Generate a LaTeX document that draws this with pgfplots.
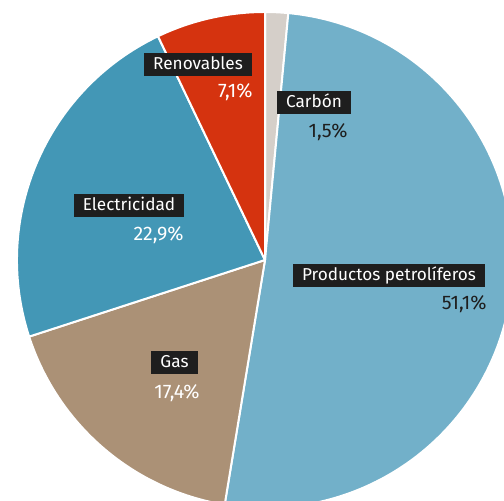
\documentclass[border=0pt]{standalone}
\usepackage{pgfplots}
\usepackage{pgfplotstable}
\pgfplotsset{compat=1.18}
\usepackage{fontspec}
\setmainfont{Fira Sans}

\definecolor{carbon}{HTML}{D5CFC9}
\definecolor{petro}{HTML}{72B0C9}
\definecolor{gas}{HTML}{AB9176}
\definecolor{elec}{HTML}{4397B6}
\definecolor{renov}{HTML}{D5330F}
\definecolor{boxbg}{HTML}{1E1E1E}

% share of each source, clockwise from 12 o'clock
\pgfplotstableread[col sep=comma]{
name,value,col
Carbon,1.5,carbon
Petroliferos,51.1,petro
Gas,17.4,gas
Electricidad,22.9,elec
Renovables,7.1,renov
}\shares

\tikzset{
  lbl/.style={fill=boxbg, text=white, inner xsep=4.5pt, inner ysep=0pt,
    text height=7pt, text depth=2pt, minimum height=11.5pt, font=\fontsize{8.6}{10}\selectfont},
  pct/.style={inner sep=0pt, font=\fontsize{9.8}{11}\selectfont}
}

\begin{document}
\begin{tikzpicture}
\begin{axis}[x=0.5pt, y=0.5pt, xmin=-265, xmax=239, ymin=-241, ymax=260,
  hide axis, clip=true]
\pgfplotstablegetrowsof{\shares}
\pgfmathtruncatemacro\nrows{\pgfplotsretval-1}
\gdef\angA{90}
\pgfplotsforeachungrouped \i in {0,...,\nrows}{
  \pgfplotstablegetelem{\i}{value}\of\shares \let\sliceval=\pgfplotsretval
  \pgfplotstablegetelem{\i}{col}\of\shares \let\slicecol=\pgfplotsretval
  \pgfmathsetmacro\angB{\angA-3.6*\sliceval}
  \edef\temp{\noexpand\fill[\slicecol, draw=white, line width=1pt, line join=round]
    (axis cs:0,0) -- ++(\angA:124pt) arc[start angle=\angA, end angle=\angB, radius=124pt] -- cycle;}
  \temp
  \xdef\angA{\angB}
}

\node[lbl] at (axis cs:-67,195.5) {Renovables};
\node[pct, text=white, anchor=east] at (axis cs:-12,168) {7,1\%};
\node[lbl] at (axis cs:49,157.5) {Carbón};
\node[pct, text=boxbg, anchor=east] at (axis cs:83,128) {1,5\%};
\node[lbl] at (axis cs:124,-15.5) {Productos petrolíferos};
\node[pct, text=boxbg, anchor=east] at (axis cs:222,-44) {51,1\%};
\node[lbl] at (axis cs:-136,54.5) {Electricidad};
\node[pct, text=white, anchor=east] at (axis cs:-81,25) {22,9\%};
\node[lbl] at (axis cs:-90.5,-102.5) {Gas};
\node[pct, text=white] at (axis cs:-88,-133) {17,4\%};
\end{axis}
\pgfresetboundingbox
\useasboundingbox (current axis.south west) rectangle (current axis.north east);
\end{tikzpicture}
\end{document}
